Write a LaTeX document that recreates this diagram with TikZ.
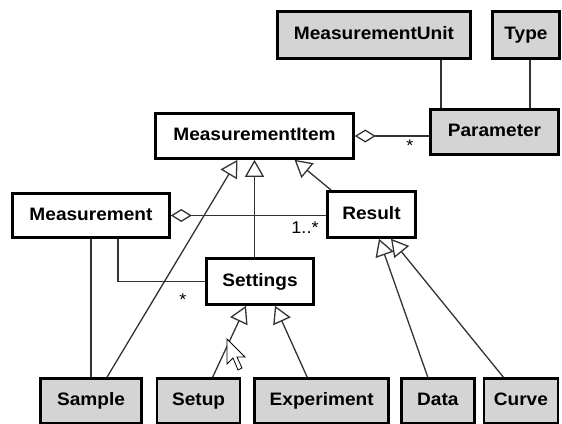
\documentclass[tikz,border=0pt]{standalone}
\usepackage{fontspec}
\setmainfont[FakeStretch=1.06]{Liberation Sans}
\usetikzlibrary{positioning,arrows.meta}

\definecolor{boxgray}{RGB}{212,212,212}

\tikzset{
 cls/.style={draw=black, line width=2.6pt, minimum height=45pt, inner sep=0pt, text height=13pt, text depth=3.5pt, font=\bfseries\fontsize{18}{20}\selectfont},
 ext/.style={cls, fill=boxgray},
 lnk/.style={draw=black!80, line width=1.3pt},
 gen/.style={lnk, -{Triangle[open, length=17pt, width=19pt]}},
 agg/.style={lnk, {Diamond[open, length=21pt, width=13pt]}-},
 mult/.style={font=\fontsize{17}{20}\selectfont, inner sep=0pt}
}

\begin{document}
\begin{tikzpicture}[x=1pt, y=-1pt]
 \useasboundingbox (0,0) rectangle (562,423);
 \fill[white] (0,0) rectangle (562,423);
 \clip (0,0) rectangle (562,423);

 %Classes
 \node (unit) [ext, minimum width=193pt, minimum height=47pt] at (374,35) {MeasurementUnit};
 \node (type) [ext, minimum width=67pt, minimum height=47pt] at (526,35) {Type};
 \node (param) [ext, minimum width=128pt] at (494.5,132) {Parameter};
 \node (item) [cls, minimum width=198pt] at (254.5,136) {MeasurementItem};
 \node (meas) [cls, minimum width=157pt, minimum height=44pt] at (91,215.5) {Measurement};
 \node (result) [cls, minimum width=88pt, minimum height=46pt] at (371.5,214.5) {Result};
 \node (settings) [cls, minimum width=107pt, minimum height=46pt] at (260,281.5) {Settings};

 %Bottom row
 \node (sample) [ext, minimum width=101pt] at (91,401) {Sample};
 \node (setup) [ext, minimum width=83pt, right=13pt of sample] {Setup};
 \node (experiment) [ext, minimum width=134pt, right=12pt of setup] {Experiment};
 \node (data) [ext, minimum width=73pt, right=10pt of experiment] {Data};
 \node (curve) [ext, minimum width=74pt, right=7pt of data] {Curve};

 %Associations
 \draw[lnk] ([xshift=67pt]unit.south) -- ([xshift=67pt]unit.south |- param.north);
 \draw[lnk] ([xshift=4pt]type.south) -- ([xshift=4pt]type.south |- param.north);
 \draw[agg] (item.east) -- (item.east -| param.west);
 \draw[agg] (meas.east) -- (meas.east -| result.west);
 \draw[lnk] ([xshift=27pt]meas.south) |- (settings.west);
 \draw[lnk] (meas.south) -- (meas.south |- sample.north);

 %Generalizations
 \draw[gen] ([xshift=16pt]sample.north) -- ([xshift=-17pt]item.south);
 \draw[gen] (item.south |- settings.north) -- (item.south);
 \draw[gen] ([xshift=5pt]result.north west) -- ([xshift=40pt]item.south);
 \draw[gen] ([xshift=-10pt]data.north) -- ([xshift=7.5pt]result.south);
 \draw[gen] ([xshift=-17.5pt]curve.north) -- ([xshift=19.5pt]result.south);
 \draw[gen] ([xshift=14pt]setup.north) -- ([xshift=-14pt]settings.south);
 \draw[gen] ([xshift=-14.5pt]experiment.north) -- ([xshift=15pt]settings.south);

 %Multiplicities
 \node (mparam) [mult] at (410,146) {*};
 \node (mresult) [mult] at (305,228) {1..*};
 \node (msettings) [mult] at (183,300) {*};

 %Pointer
 \draw[fill=white, line width=0.8pt] (227,339) -- (227,364) -- (233,358) -- (238,370) -- (242,368) -- (237,357) -- (245,357) -- cycle;

\end{tikzpicture}
\end{document}
